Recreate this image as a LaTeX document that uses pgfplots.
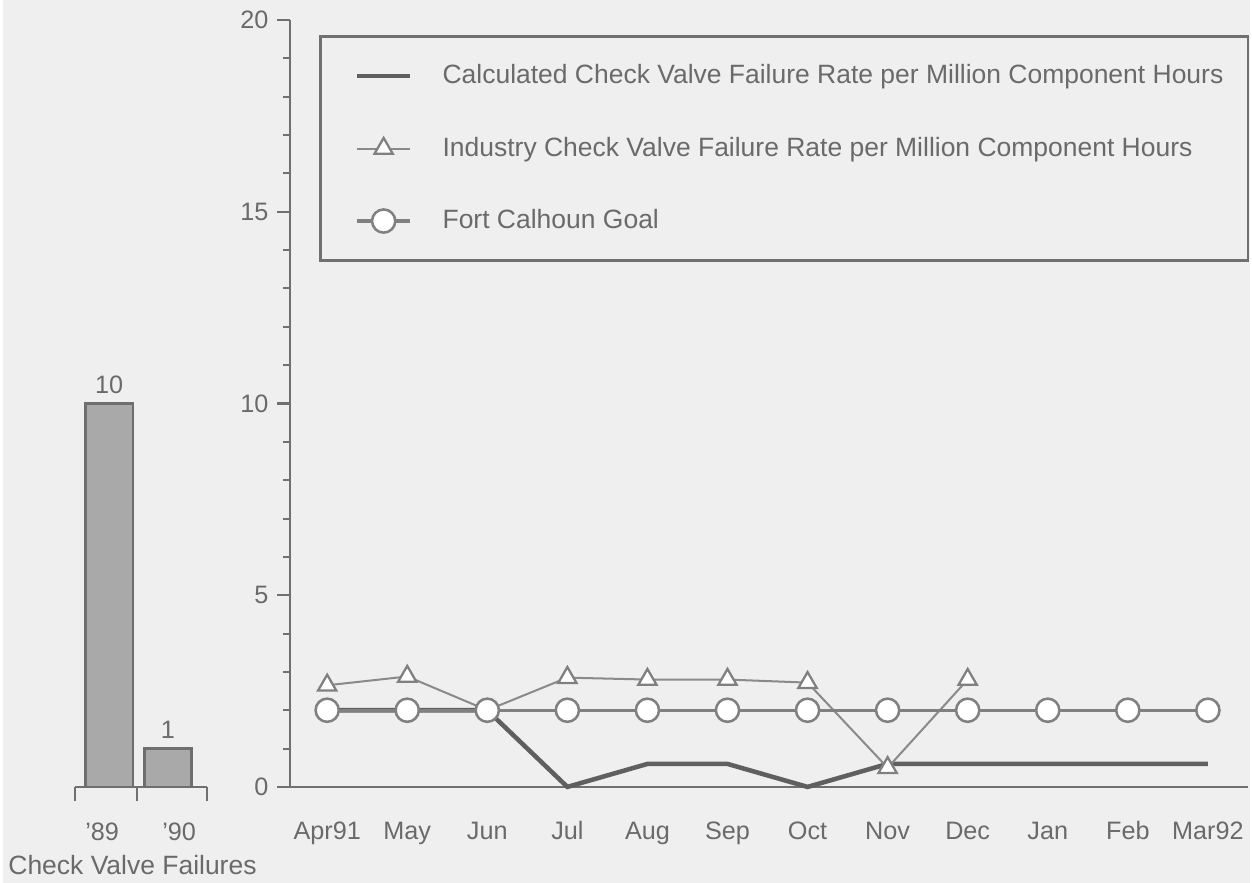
\documentclass[border=0pt]{standalone}
\usepackage{fontspec}
\setmainfont{Liberation Sans}
\usepackage{pgfplots}
\pgfplotsset{compat=1.18}
\usetikzlibrary{backgrounds}

\definecolor{bg}{HTML}{EFEFEF}
\definecolor{txt}{HTML}{6A6A6A}
\definecolor{axisgray}{HTML}{707070}
\definecolor{calc}{HTML}{5F5F5F}
\definecolor{ind}{HTML}{8A8A8A}
\definecolor{goal}{HTML}{808080}
\definecolor{barfill}{HTML}{A9A9A9}
\definecolor{baredge}{HTML}{6E6E6E}

\begin{document}
\begin{tikzpicture}
% --- check valve failures by year (left) ---
\begin{axis}[
    at={(1.014cm,0cm)}, anchor=south west,
    scale only axis,
    width=1.833cm, height=10.69cm,
    xmin=-0.576, xmax=1.661,
    ymin=0, ymax=20,
    axis x line=bottom,
    axis y line=none,
    axis line style={-, axisgray, line width=0.8pt},
    xtick={-0.12,1.19},
    xticklabels={'89,'90},
    major x tick style={draw=none},
    minor xtick={-0.576,0.475,1.661},
    minor tick length=0.2cm,
    tick align=outside,
    minor x tick style={axisgray, line width=0.8pt},
    /pgf/number format/assume math mode=true,
    x tick label style={font=\fontsize{10}{12}\selectfont, text=txt, yshift=-0.18cm,
        text height=1.6ex, text depth=0.3ex},
    xlabel={Check Valve Failures},
    xlabel style={font=\fontsize{10.5}{12}\selectfont, text=txt, yshift=0.1cm, xshift=-0.12cm},
    ybar, bar width=0.66cm,
    nodes near coords,
    nodes near coords style={font=\fontsize{10}{12}\selectfont, text=txt},
    clip=false,
]
\addplot[fill=barfill, draw=baredge, line width=1pt] coordinates {(0,10) (1,1)};
\end{axis}

% --- monthly failure rate (right) ---
\begin{axis}[
    at={(4.0cm,0cm)}, anchor=south west,
    scale only axis,
    width=13.36cm, height=10.69cm,
    xmin=-0.47, xmax=11.5,
    ymin=0, ymax=20,
    axis x line=bottom,
    axis y line=left,
    axis line style={-, axisgray, line width=0.8pt},
    xtick={0,...,11},
    xticklabels={Apr91,May,Jun,Jul,Aug,Sep,Oct,Nov,Dec,Jan,Feb,Mar92},
    xtick style={draw=none},
    ytick={0,5,10,15,20},
    minor y tick num=4,
    tick align=outside,
    major tick length=0.17cm,
    minor tick length=0.09cm,
    y tick style={axisgray, line width=0.8pt},
    /pgf/number format/assume math mode=true,
    x tick label style={font=\fontsize{10}{12}\selectfont, text=txt, yshift=-0.14cm,
        text height=1.6ex, text depth=0.3ex},
    y tick label style={font=\fontsize{10}{12}\selectfont, text=txt},
    legend cell align=left,
    legend style={
        at={(0.031,0.98)}, anchor=north west,
        draw=axisgray, line width=0.9pt, fill=none,
        font=\fontsize{10.5}{12}\selectfont, text=txt,
        inner xsep=0.48cm, inner ysep=0.32cm,
        column sep=0.35cm,
        row sep=0.55cm,
    },
    legend image code/.code={
        \draw[mark repeat=2, mark phase=2] plot coordinates {(0cm,0cm) (0.37cm,0cm) (0.74cm,0cm)};
    },
    clip=false,
]
% Calculated check valve failure rate
\addplot[calc, line width=1.8pt, mark=none] coordinates {
(0,2.0) (1,2.0) (2,2.0) (3,0) (4,0.6) (5,0.6) (6,0) (7,0.6) (8,0.6) (9,0.6) (10,0.6) (11,0.6)
};
\addlegendentry{\makebox[10.68cm][l]{Calculated Check Valve Failure Rate per Million Component Hours}}

% Industry check valve failure rate
\addplot[ind, line width=0.8pt, mark=triangle*, mark size=4.2pt,
    mark options={fill=white, draw=goal, line width=0.9pt}] coordinates {
(0,2.65) (1,2.88) (2,2.0) (3,2.85) (4,2.8) (5,2.8) (6,2.72) (7,0.5) (8,2.8)
};
\addlegendentry{Industry Check Valve Failure Rate per Million Component Hours}

% Fort Calhoun goal
\addplot[goal, line width=1.3pt, mark=*, mark size=4.6pt,
    mark options={fill=white, draw=goal, line width=1pt}] coordinates {
(0,2) (1,2) (2,2) (3,2) (4,2) (5,2) (6,2) (7,2) (8,2) (9,2) (10,2) (11,2)
};
\addlegendentry{Fort Calhoun Goal}
\end{axis}

\path (0cm,-1.333cm) rectangle (17.39cm,10.97cm);
\begin{scope}[on background layer]
\fill[bg] (0cm,-1.333cm) rectangle (17.39cm,10.97cm);
\end{scope}
\end{tikzpicture}
\end{document}
